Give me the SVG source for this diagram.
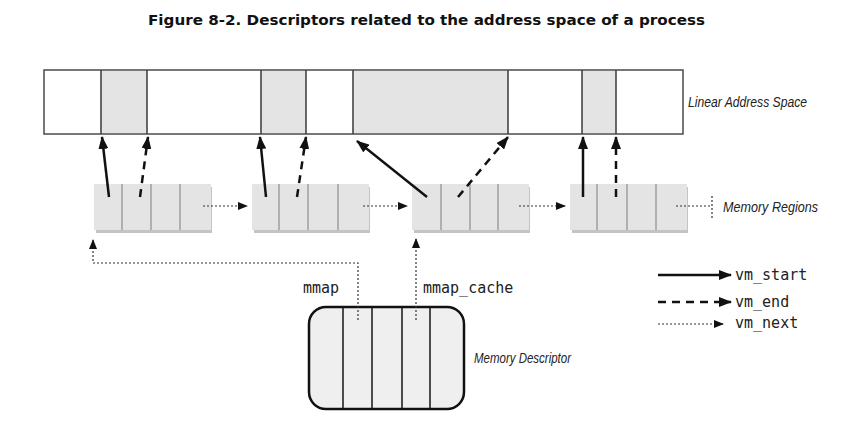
<svg xmlns="http://www.w3.org/2000/svg" width="852" height="424" viewBox="0 0 852 424">
<style>
.title{font-family:"DejaVu Sans",sans-serif;font-weight:bold;font-size:14.5px;fill:#111}
.ital{font-family:"Liberation Sans",sans-serif;font-style:italic;font-size:15px;fill:#222}
.mono{font-family:"DejaVu Sans Mono",monospace;font-size:15px;fill:#222}
.bar{fill:#fff;stroke:#555;stroke-width:1.6}
.shade{fill:#e4e4e4;stroke:none}
.bardiv{stroke:#444;stroke-width:1.6}
.reg{fill:#e4e4e4;stroke:none}
.regsh{fill:#c4c4c4}
.regdiv{stroke:#b0b0b0;stroke-width:2}
.solid{stroke:#111;stroke-width:2.5;fill:none}
.dash{stroke:#111;stroke-width:2.5;fill:none;stroke-dasharray:8,6}
.dot{stroke:#333;stroke-width:1.2;fill:none;stroke-dasharray:2,2}
.desc{fill:#efefef;stroke:#111;stroke-width:2.5}
.descdiv{stroke:#222;stroke-width:1.6}
</style>
<defs>
<marker id="big" markerUnits="userSpaceOnUse" markerWidth="13" markerHeight="10" refX="12" refY="5" orient="auto"><path d="M0,0 L13,5 L0,10 z" fill="#111"/></marker>
<marker id="small" markerUnits="userSpaceOnUse" markerWidth="10" markerHeight="8" refX="9" refY="4" orient="auto"><path d="M0,0 L10,4 L0,8 z" fill="#111"/></marker>
</defs>
<text class="title" x="148" y="25" textLength="557" lengthAdjust="spacingAndGlyphs">Figure 8-2. Descriptors related to the address space of a process</text>

<g id="linear-address-space">
<rect class="bar" x="44" y="70" width="639" height="64"/>
<rect class="shade" x="101" y="71" width="46" height="62"/>
<rect class="shade" x="261" y="71" width="45" height="62"/>
<rect class="shade" x="353" y="71" width="155" height="62"/>
<rect class="shade" x="582" y="71" width="34" height="62"/>
<line class="bardiv" x1="101" y1="70" x2="101" y2="134"/>
<line class="bardiv" x1="147" y1="70" x2="147" y2="134"/>
<line class="bardiv" x1="261" y1="70" x2="261" y2="134"/>
<line class="bardiv" x1="306" y1="70" x2="306" y2="134"/>
<line class="bardiv" x1="353" y1="70" x2="353" y2="134"/>
<line class="bardiv" x1="508" y1="70" x2="508" y2="134"/>
<line class="bardiv" x1="582" y1="70" x2="582" y2="134"/>
<line class="bardiv" x1="616" y1="70" x2="616" y2="134"/>
<text class="ital" x="688" y="107" textLength="119" lengthAdjust="spacingAndGlyphs">Linear Address Space</text>
</g>

<g id="region-1">
<rect class="regsh" x="96" y="187" width="116" height="46"/>
<rect class="reg" x="94" y="184" width="117" height="46"/>
<line class="regdiv" x1="122" y1="184" x2="122" y2="230"/>
<line class="regdiv" x1="151" y1="184" x2="151" y2="230"/>
<line class="regdiv" x1="180" y1="184" x2="180" y2="230"/>
</g>
<g id="region-2">
<rect class="regsh" x="254" y="187" width="116" height="46"/>
<rect class="reg" x="252" y="184" width="117" height="46"/>
<line class="regdiv" x1="279" y1="184" x2="279" y2="230"/>
<line class="regdiv" x1="308" y1="184" x2="308" y2="230"/>
<line class="regdiv" x1="338" y1="184" x2="338" y2="230"/>
</g>
<g id="region-3">
<rect class="regsh" x="414" y="187" width="116" height="46"/>
<rect class="reg" x="412" y="184" width="117" height="46"/>
<line class="regdiv" x1="441" y1="184" x2="441" y2="230"/>
<line class="regdiv" x1="470" y1="184" x2="470" y2="230"/>
<line class="regdiv" x1="498" y1="184" x2="498" y2="230"/>
</g>
<g id="region-4">
<rect class="regsh" x="572" y="187" width="116" height="46"/>
<rect class="reg" x="570" y="184" width="117" height="46"/>
<line class="regdiv" x1="597" y1="184" x2="597" y2="230"/>
<line class="regdiv" x1="627" y1="184" x2="627" y2="230"/>
<line class="regdiv" x1="656" y1="184" x2="656" y2="230"/>
</g>
<text class="ital" x="723" y="212" textLength="95" lengthAdjust="spacingAndGlyphs">Memory Regions</text>

<g id="memory-descriptor">
<rect class="desc" x="309" y="307" width="155" height="102" rx="17" ry="17"/>
<line class="descdiv" x1="343" y1="308" x2="343" y2="408"/>
<line class="descdiv" x1="372" y1="308" x2="372" y2="408"/>
<line class="descdiv" x1="402" y1="308" x2="402" y2="408"/>
<line class="descdiv" x1="430" y1="308" x2="430" y2="408"/>
<text class="ital" x="474" y="363" textLength="97" lengthAdjust="spacingAndGlyphs">Memory Descriptor</text>
</g>

<g id="connectors">
<line class="solid" x1="109" y1="197" x2="102" y2="137" marker-end="url(#big)"/>
<line class="dash" x1="140" y1="197" x2="148" y2="137" marker-end="url(#big)"/>
<line class="solid" x1="266" y1="197" x2="260" y2="137" marker-end="url(#big)"/>
<line class="dash" x1="297" y1="197" x2="306" y2="137" marker-end="url(#big)"/>
<line class="solid" x1="427" y1="197" x2="357" y2="141" marker-end="url(#big)"/>
<line class="dash" x1="458" y1="197" x2="508" y2="137" marker-end="url(#big)"/>
<line class="solid" x1="583" y1="197" x2="583" y2="137" marker-end="url(#big)"/>
<line class="dash" x1="616" y1="197" x2="616" y2="137" marker-end="url(#big)"/>

<line class="dot" x1="203" y1="206" x2="247" y2="206" marker-end="url(#small)"/>
<line class="dot" x1="363" y1="206" x2="407" y2="206" marker-end="url(#small)"/>
<line class="dot" x1="519" y1="206" x2="565" y2="206" marker-end="url(#small)"/>
<line class="dot" x1="676" y1="206" x2="712" y2="206"/>
<line class="dot" x1="712" y1="196" x2="712" y2="218"/>

<polyline class="dot" points="358,320 358,263 93,263 93,240" marker-end="url(#small)"/>
<line class="dot" x1="416" y1="320" x2="416" y2="239" marker-end="url(#small)"/>
</g>
<text class="mono" x="303" y="293">mmap</text>
<text class="mono" x="423" y="293">mmap_cache</text>

<g id="legend">
<line class="solid" x1="658" y1="275" x2="731" y2="275" marker-end="url(#big)"/>
<line class="dash" x1="658" y1="302" x2="731" y2="302" marker-end="url(#big)"/>
<line class="dot" x1="658" y1="324" x2="723" y2="324" marker-end="url(#small)"/>
<text class="mono" x="735" y="280">vm_start</text>
<text class="mono" x="735" y="307">vm_end</text>
<text class="mono" x="735" y="328">vm_next</text>
</g>
</svg>
